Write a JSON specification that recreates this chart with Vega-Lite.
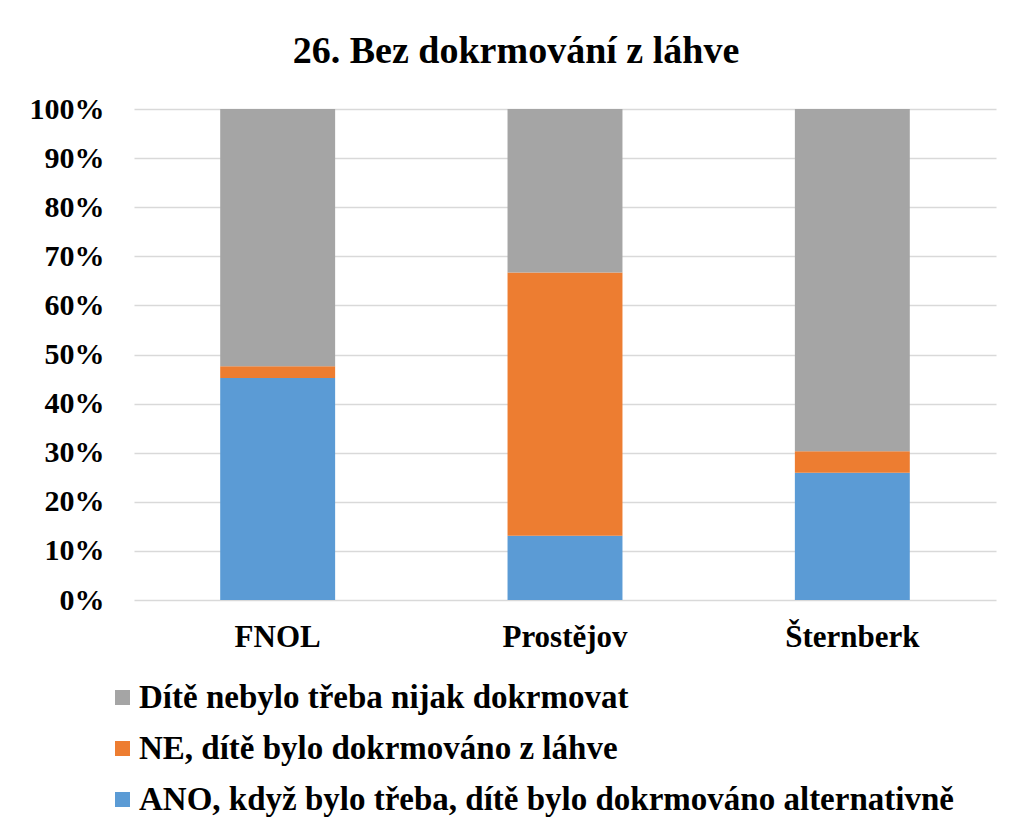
{
  "$schema": "https://vega.github.io/schema/vega-lite/v6.json",
  "autosize": {"type": "none"},
  "padding": {"left": 134, "top": 109, "right": 15, "bottom": 232},
  "width": 862,
  "height": 491,
  "background": "white",
  "title": {
    "text": "26. Bez dokrmování  z láhve",
    "font": "Liberation Serif",
    "fontSize": 38,
    "fontWeight": "bold",
    "color": "black",
    "anchor": "middle",
    "dx": -49,
    "offset": 23
  },
  "data": {
    "values": [
      {"misto": "FNOL", "odpoved": "ANO, když bylo třeba, dítě bylo dokrmováno alternativně", "poradi": 1, "podil": 45.2},
      {"misto": "FNOL", "odpoved": "NE, dítě bylo dokrmováno z láhve", "poradi": 2, "podil": 2.4},
      {"misto": "FNOL", "odpoved": "Dítě nebylo třeba nijak dokrmovat", "poradi": 3, "podil": 52.4},
      {"misto": "Prostějov", "odpoved": "ANO, když bylo třeba, dítě bylo dokrmováno alternativně", "poradi": 1, "podil": 13.1},
      {"misto": "Prostějov", "odpoved": "NE, dítě bylo dokrmováno z láhve", "poradi": 2, "podil": 53.6},
      {"misto": "Prostějov", "odpoved": "Dítě nebylo třeba nijak dokrmovat", "poradi": 3, "podil": 33.3},
      {"misto": "Šternberk", "odpoved": "ANO, když bylo třeba, dítě bylo dokrmováno alternativně", "poradi": 1, "podil": 25.9},
      {"misto": "Šternberk", "odpoved": "NE, dítě bylo dokrmováno z láhve", "poradi": 2, "podil": 4.4},
      {"misto": "Šternberk", "odpoved": "Dítě nebylo třeba nijak dokrmovat", "poradi": 3, "podil": 69.7}
    ]
  },
  "mark": {"type": "bar"},
  "encoding": {
    "x": {
      "field": "misto",
      "type": "nominal",
      "sort": ["FNOL", "Prostějov", "Šternberk"],
      "scale": {"paddingInner": 0.6, "paddingOuter": 0.3},
      "axis": {
        "title": null,
        "labelAngle": 0,
        "labelFont": "Liberation Serif",
        "labelFontSize": 31,
        "labelFontWeight": "bold",
        "labelColor": "black",
        "labelPadding": 22,
        "ticks": false,
        "domain": false
      }
    },
    "y": {
      "field": "podil",
      "type": "quantitative",
      "stack": "normalize",
      "scale": {"domain": [0, 1]},
      "axis": {
        "title": null,
        "format": ".0%",
        "values": [0, 0.1, 0.2, 0.3, 0.4, 0.5, 0.6, 0.7, 0.8, 0.9, 1],
        "labelFont": "Liberation Serif",
        "labelFontSize": 30,
        "labelFontWeight": "bold",
        "labelColor": "black",
        "labelPadding": 30,
        "ticks": false,
        "domain": false,
        "gridColor": "#d9d9d9",
        "gridWidth": 1.5
      }
    },
    "color": {
      "field": "odpoved",
      "type": "nominal",
      "scale": {
        "domain": ["Dítě nebylo třeba nijak dokrmovat", "NE, dítě bylo dokrmováno z láhve", "ANO, když bylo třeba, dítě bylo dokrmováno alternativně"],
        "range": ["#A5A5A5", "#ED7D31", "#5B9BD5"]
      },
      "legend": {
        "title": null,
        "orient": "none",
        "legendX": -28,
        "legendY": 572,
        "padding": 0,
        "direction": "vertical",
        "symbolType": "square",
        "symbolSize": 225,
        "symbolStrokeWidth": 0,
        "labelFont": "Liberation Serif",
        "labelFontSize": 33,
        "labelFontWeight": "bold",
        "labelColor": "black",
        "labelOffset": 0,
        "labelLimit": 1000,
        "rowPadding": 17
      }
    },
    "order": {"field": "poradi", "type": "quantitative"}
  },
  "config": {
    "view": {"stroke": null}
  }
}
